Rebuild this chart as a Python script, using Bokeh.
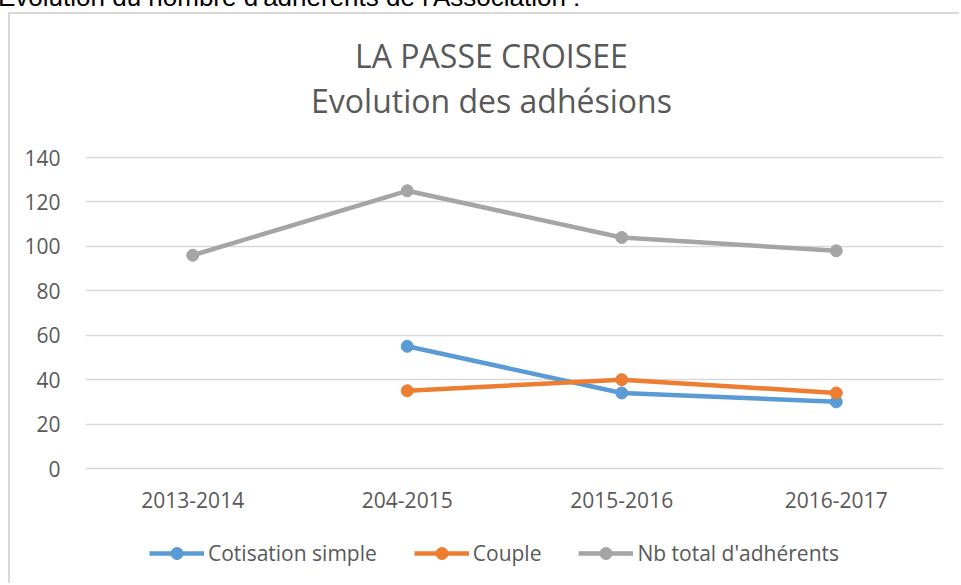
from bokeh.plotting import figure
from bokeh.models import (FactorRange, Range1d, FixedTicker, Legend, LegendItem,
                          Label, LabelSet, Div, ColumnDataSource)
from bokeh.core.properties import value
from bokeh.embed import file_html
from bokeh.resources import INLINE

NAN = float("nan")

# ---- data ----
seasons = ["2013-2014", "204-2015", "2015-2016", "2016-2017"]
cotisation_simple = [NAN, 55, 34, 30]
couple = [NAN, 35, 40, 34]
nb_total = [96, 125, 104, 98]
y_ticks = [0, 20, 40, 60, 80, 100, 120, 140]
series_names = ["Cotisation simple", "Couple", "Nb total d'adhérents"]
chart_title = ["LA PASSE CROISEE", "Evolution des adhésions"]
page_heading = "Evolution du nombre d'adhérents de l'Association :"

series_colors = ["#5B9BD5", "#ED7D31", "#A5A5A5"]
FONT = "Open Sans"
TXT = "#595959"

# heading, cut at the top of the page
heading = Div(text=('<div style="position:relative; top:-23px; left:-7px; '
                    'font-family:\'Liberation Sans\'; font-size:26px; line-height:30px; '
                    'color:#000; white-space:nowrap;">' + page_heading + '</div>'),
              width=961, height=12,
              styles={"position": "absolute", "top": "0px", "left": "0px"})

# plot frame spans the whole chart area; value axis keeps 0..140 at the reference place
PX_PER_UNIT = 311 / 140.0
p = figure(width=951, height=571, title=None,
           x_range=FactorRange(factors=seasons, range_padding=0),
           y_range=Range1d(-112 / PX_PER_UNIT, 140 + 137 / PX_PER_UNIT),
           output_backend="svg", toolbar_location=None,
           min_border_left=75, min_border_right=18,
           min_border_top=6, min_border_bottom=5,
           background_fill_color="white", border_fill_color="white",
           outline_line_color=None)
p.styles = {"margin-left": "10px", "margin-top": "14px",
            "box-shadow": "-2px -2px 0px 0px #D9D9D9"}

# value axis
p.yaxis.ticker = FixedTicker(ticks=y_ticks)
p.yaxis.axis_line_color = None
p.yaxis.major_tick_line_color = None
p.yaxis.minor_tick_line_color = None
p.yaxis.major_tick_out = 0
p.yaxis.major_label_standoff = 25
p.yaxis.major_label_text_font = FONT
p.yaxis.major_label_text_font_size = "21px"
p.yaxis.major_label_text_color = TXT

# category axis: labels drawn through the categorical scale
p.xaxis.visible = False
cat_src = ColumnDataSource(dict(x=seasons, label=seasons))
p.add_layout(LabelSet(x="x", y=73, y_units="screen", text="label", source=cat_src,
                      text_align="center", text_baseline="alphabetic",
                      text_font=value(FONT), text_font_size=value("21px"),
                      text_color=TXT))

p.xgrid.grid_line_color = None
p.ygrid.grid_line_color = "#D9D9D9"
p.ygrid.grid_line_width = 1.5

# chart title
for txt, sy in zip(chart_title, [525, 480]):
    p.add_layout(Label(x=406, y=sy, x_units="screen", y_units="screen", text=txt,
                       text_align="center", text_baseline="alphabetic",
                       text_font=FONT, text_font_size="32px", text_color=TXT))

# series
items = []
for name, vals, color in zip(series_names, [cotisation_simple, couple, nb_total], series_colors):
    src = ColumnDataSource(dict(x=seasons, y=vals))
    l = p.line(x="x", y="y", source=src, line_color=color, line_width=4.5)
    s = p.scatter(x="x", y="y", source=src, size=12, fill_color=color, line_color=color)
    items.append(LegendItem(label=name, renderers=[l, s]))

legend = Legend(items=items, orientation="horizontal", location=(64, 12),
                glyph_width=55, glyph_height=30, label_height=30,
                label_standoff=4, spacing=37, padding=0, margin=0,
                border_line_color=None, background_fill_alpha=0,
                label_text_font=FONT, label_text_font_size="21px",
                label_text_color=TXT)
p.add_layout(legend, "center")

open("out.html", "w").write(file_html([heading, p], INLINE))
